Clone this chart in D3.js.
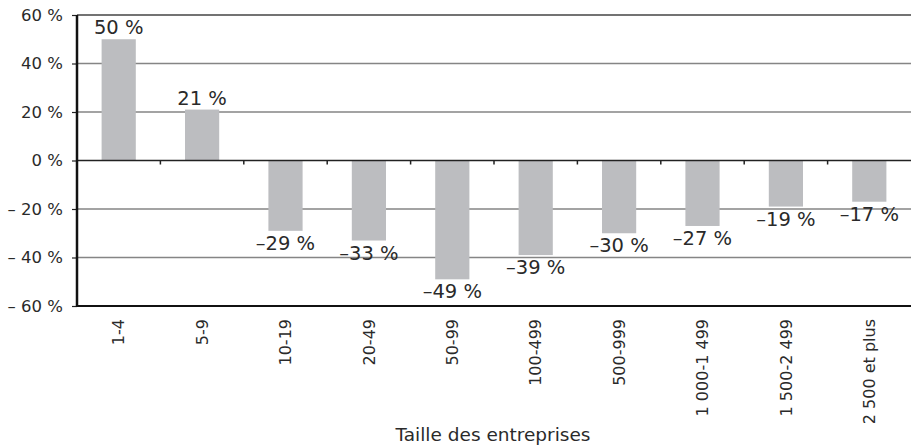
<!DOCTYPE html>
<html>
<head>
<meta charset="utf-8">
<script src="https://cdn.jsdelivr.net/npm/d3@7"></script>
<style>
  body { margin: 0; background: #fff; }
  svg text { font-family: "DejaVu Sans", Verdana, sans-serif; fill: #2a2a2a; }
</style>
</head>
<body>
<div id="chart"></div>
<script>
// catégories (taille des entreprises)
const categories = ['1-4', '5-9', '10-19', '20-49', '50-99', '100-499', '500-999', '1 000-1 499', '1 500-2 499', '2 500 et plus'];
// variation en %
const values = [50, 21, -29, -33, -49, -39, -30, -27, -19, -17];
const yTicks = [60, 40, 20, 0, -20, -40, -60];
const xTitle = 'Taille des entreprises';

const width = 911, height = 446;
const margin = {left: 77, right: 0, top: 15, bottom: 140};
const innerW = width - margin.left - margin.right;
const innerH = height - margin.top - margin.bottom;

const svg = d3.select('#chart').append('svg')
    .attr('width', width)
    .attr('height', height);
const g = svg.append('g')
    .attr('transform', `translate(${margin.left},${margin.top})`);

const x = d3.scaleBand().domain(categories).range([0, innerW]).paddingInner(0.59).paddingOuter(0.295);
const y = d3.scaleLinear().domain([-60, 60]).range([innerH, 0]);

const fmtTick = d => d < 0 ? '\u2013 ' + Math.abs(d) + ' %' : d + ' %';
const fmtVal = d => d < 0 ? '\u2013' + Math.abs(d) + ' %' : d + ' %';

// grille
g.selectAll('.grid').data(yTicks.filter(d => d !== 0 && d !== -60)).enter()
    .append('line')
    .attr('class', 'grid')
    .attr('x1', 0).attr('x2', innerW)
    .attr('y1', d => y(d)).attr('y2', d => y(d))
    .attr('stroke', d => d === 60 ? '#444' : '#858585')
    .attr('stroke-width', 1.3);

// axe Y
const yAxis = d3.axisLeft(y).tickValues(yTicks).tickSize(5).tickPadding(9).tickFormat(fmtTick);
const yAxisG = g.append('g').call(yAxis);
yAxisG.select('.domain').remove();
yAxisG.selectAll('line').attr('stroke', '#222').attr('stroke-width', 1.2);
yAxisG.selectAll('text').style('font-size', '16.5px').attr('fill', '#2a2a2a');

// barres
g.selectAll('.bar').data(values).enter()
    .append('rect')
    .attr('class', 'bar')
    .attr('x', (d, i) => x(categories[i]))
    .attr('width', x.bandwidth())
    .attr('y', d => y(Math.max(0, d)))
    .attr('height', d => Math.abs(y(d) - y(0)))
    .attr('fill', '#bcbdc0');

// ligne zéro et graduations
const zeroAxis = d3.axisBottom(x).tickSize(4).tickFormat('');
const zeroG = g.append('g').attr('transform', `translate(0,${y(0)})`).call(zeroAxis);
zeroG.select('.domain').remove();
zeroG.selectAll('.tick').attr('transform', d => `translate(${x(d) + x.bandwidth() / 2 + x.step() / 2},0)`);
zeroG.selectAll('.tick').filter((d, i) => i === categories.length - 1).remove();
zeroG.selectAll('line').attr('stroke', '#222').attr('stroke-width', 1.5);
g.append('line')
    .attr('x1', 0).attr('x2', innerW)
    .attr('y1', y(0)).attr('y2', y(0))
    .attr('stroke', '#222').attr('stroke-width', 1.4);

// ligne du bas
g.append('line')
    .attr('x1', 0).attr('x2', innerW)
    .attr('y1', y(-60)).attr('y2', y(-60))
    .attr('stroke', '#111').attr('stroke-width', 2);

// axe vertical
g.append('line')
    .attr('x1', 0).attr('x2', 0)
    .attr('y1', y(60)).attr('y2', y(-60) + 1)
    .attr('stroke', '#111').attr('stroke-width', 2.5);

// étiquettes des valeurs
g.selectAll('.val').data(values).enter()
    .append('text')
    .attr('class', 'val')
    .attr('text-anchor', 'middle')
    .attr('x', (d, i) => x(categories[i]) + x.bandwidth() / 2)
    .attr('y', d => d >= 0 ? y(d) - 5 : y(d) + 19)
    .style('font-size', '19.5px')
    .text(fmtVal);

// étiquettes catégories
g.selectAll('.cat').data(categories).enter()
    .append('text')
    .attr('class', 'cat')
    .attr('text-anchor', 'end')
    .attr('transform', d => `translate(${x(d) + x.bandwidth() / 2},${innerH + 13}) rotate(-90)`)
    .attr('dy', '0.35em')
    .style('font-size', '16px')
    .text(d => d);

// titre axe X
svg.append('text')
    .attr('text-anchor', 'middle')
    .attr('x', 493)
    .attr('y', 441)
    .style('font-size', '18.5px')
    .text(xTitle);
</script>
</body>
</html>
